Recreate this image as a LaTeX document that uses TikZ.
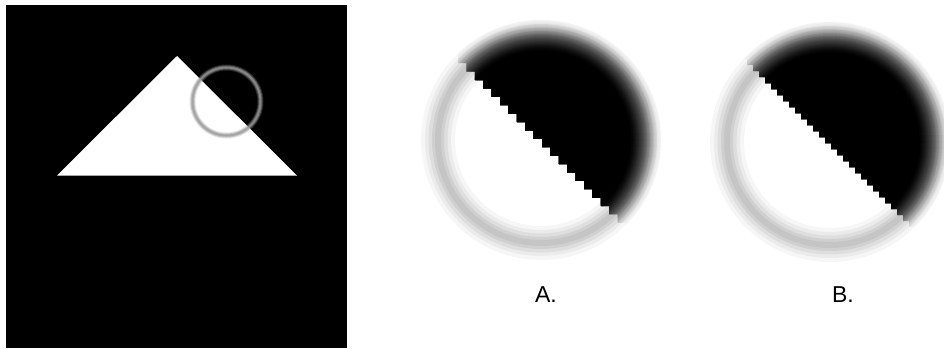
\documentclass[tikz,border=0pt]{standalone}
\usepackage{fontspec}
\setmainfont{Liberation Sans}
\newcommand\zoomdisk[5]{%
  % #1,#2 centre; #3 offset of diagonal (y = x - #3); #4 step; #5 number of steps
  \foreach \w/\o in {34/0.035,26/0.045,19/0.055,12/0.06,6/0.05}
    \draw[line width=\w pt, black, opacity=\o] (#1,#2) circle (103pt);
  \begin{scope}
    \clip (#1-125,#1-125-#3+#4/2)
      \foreach \k in {1,...,#5} { -- ++(#4,0) -- ++(0,#4) }
      -- ++(60,0) -- ++(0,-430) -- ++(-430,0) -- cycle;
    \foreach \k in {1,...,34} {
      \pgfmathsetmacro\ta{(\k-1)/34}
      \pgfmathsetmacro\tb{\k/34}
      \pgfmathsetmacro\da{3*\ta*\ta-2*\ta*\ta*\ta}
      \pgfmathsetmacro\db{3*\tb*\tb-2*\tb*\tb*\tb}
      \pgfmathsetmacro\op{min(1,(\db-\da)/(1-\da+0.00001))}
      \pgfmathsetmacro\rr{122-\k}
      \fill[black, opacity=\op] (#1,#2) circle (\rr pt);
    }
    \fill[black] (#1,#2) circle (88pt);
  \end{scope}
}
\begin{document}
\begin{tikzpicture}[x=1pt,y=-1pt]
  \useasboundingbox (0,0) rectangle (944,348);
  \fill[white] (0,0) rectangle (944,348);
  % left panel
  \fill[black] (6,5) rectangle (347,348);
  \fill[white] (177,56) -- (297,175.5) -- (57,175.5) -- cycle;
  \draw[line width=6pt, black!40, opacity=.25] (226.5,101.5) circle (34pt);
  \draw[line width=4pt, black!40, opacity=.45] (226.5,101.5) circle (34pt);
  \draw[line width=2pt, black!40, opacity=.7] (226.5,101.5) circle (34pt);
  % zoomed views
  \zoomdisk{541}{140}{399}{8.4}{30}
  \zoomdisk{830}{142}{685}{6}{44}
  \node[font=\fontsize{23}{27}\selectfont, inner sep=0pt] (labA) at (546,295) {A.};
  \node[font=\fontsize{23}{27}\selectfont, inner sep=0pt] (labB) at (843,295) {B.};
\end{tikzpicture}
\end{document}
